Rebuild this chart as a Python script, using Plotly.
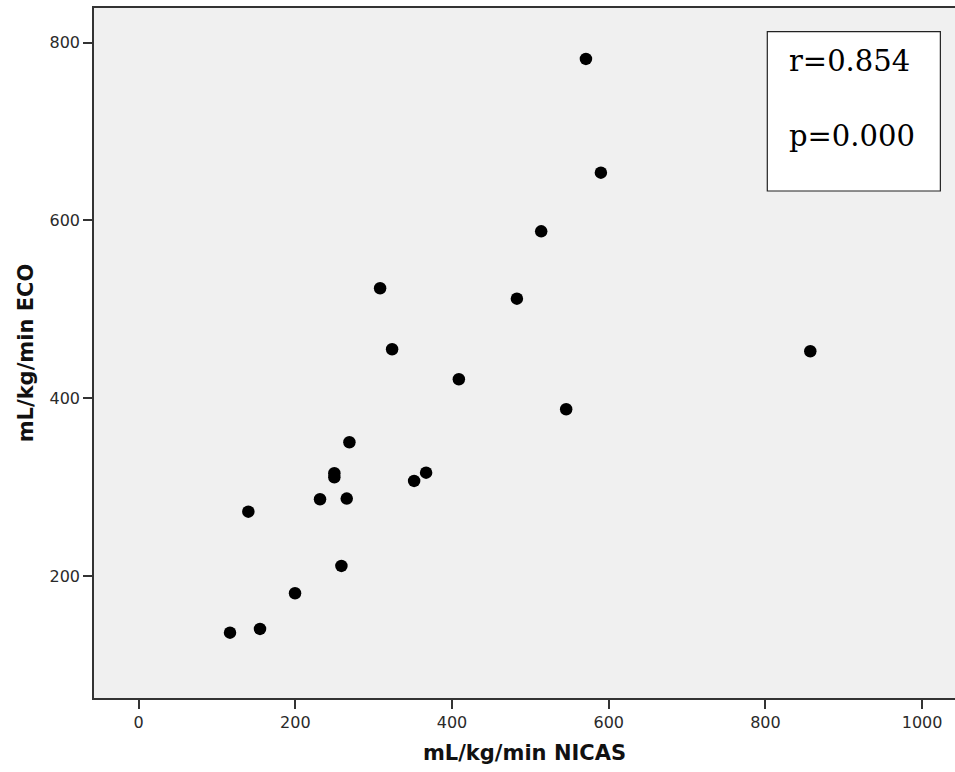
import plotly.graph_objects as go

# Data (NICAS vs ECO, mL/kg/min)
nicas = [140.0, 199.6, 116.6, 154.9, 269.0, 249.8, 249.8, 231.5, 265.6, 351.6,
         366.9, 258.8, 308.2, 323.5, 408.7, 570.9, 590.0, 513.8, 482.8, 545.7, 857.3]
eco = [272.4, 180.6, 136.3, 140.5, 350.5, 315.6, 311.1, 286.4, 287.1, 307.0,
       316.3, 211.4, 523.7, 455.1, 421.4, 781.7, 653.8, 587.8, 512.0, 387.6, 452.9]

x_ticks = [0, 200, 400, 600, 800, 1000]
y_ticks = [200, 400, 600, 800]
stats_text = ["r=0.854", "p=0.000"]

fig = go.Figure()
fig.add_trace(go.Scatter(
    x=nicas, y=eco, mode="markers",
    marker=dict(size=12.5, color="black", line=dict(width=0)),
    showlegend=False, hoverinfo="x+y",
))

axis_common = dict(
    showgrid=False, zeroline=False,
    showline=True, linecolor="#333333", linewidth=1.5,
    ticks="outside", ticklen=9, tickwidth=1.5, tickcolor="#333333",
    tickfont=dict(family="DejaVu Sans", size=16, color="#2a2a2a"),
)

fig.update_xaxes(
    range=[-57, 1042], tickvals=x_ticks, mirror=True,
    title=dict(text="mL/kg/min NICAS", standoff=14,
               font=dict(family="DejaVu Sans", size=21, color="#111111", weight="bold")),
    **axis_common,
)
fig.update_yaxes(
    range=[62.8, 839], tickvals=y_ticks,
    title=dict(text="mL/kg/min ECO", standoff=10,
               font=dict(family="DejaVu Sans", size=21, color="#111111", weight="bold")),
    **axis_common,
)

# Stats box
fig.add_shape(type="rect", xref="paper", yref="paper",
              x0=0.782, x1=0.983, y0=0.7348, y1=0.9657,
              line=dict(color="#222222", width=1.2), fillcolor="white", layer="above")
for txt, yy in zip(stats_text, [0.9232, 0.8138]):
    fig.add_annotation(text=txt, xref="paper", yref="paper", x=0.8043, y=yy,
                       xanchor="left", yanchor="middle", showarrow=False,
                       font=dict(family="DejaVu Serif", size=29, color="black"))

fig.update_layout(
    width=955, height=772,
    margin=dict(l=94, r=0, t=8, b=74),
    plot_bgcolor="#f0f0f0", paper_bgcolor="white",
)

fig.write_html(
    "out.html",
    config={"displayModeBar": False},
    post_script="document.body.style.margin='0';document.body.style.overflow='hidden';",
)
